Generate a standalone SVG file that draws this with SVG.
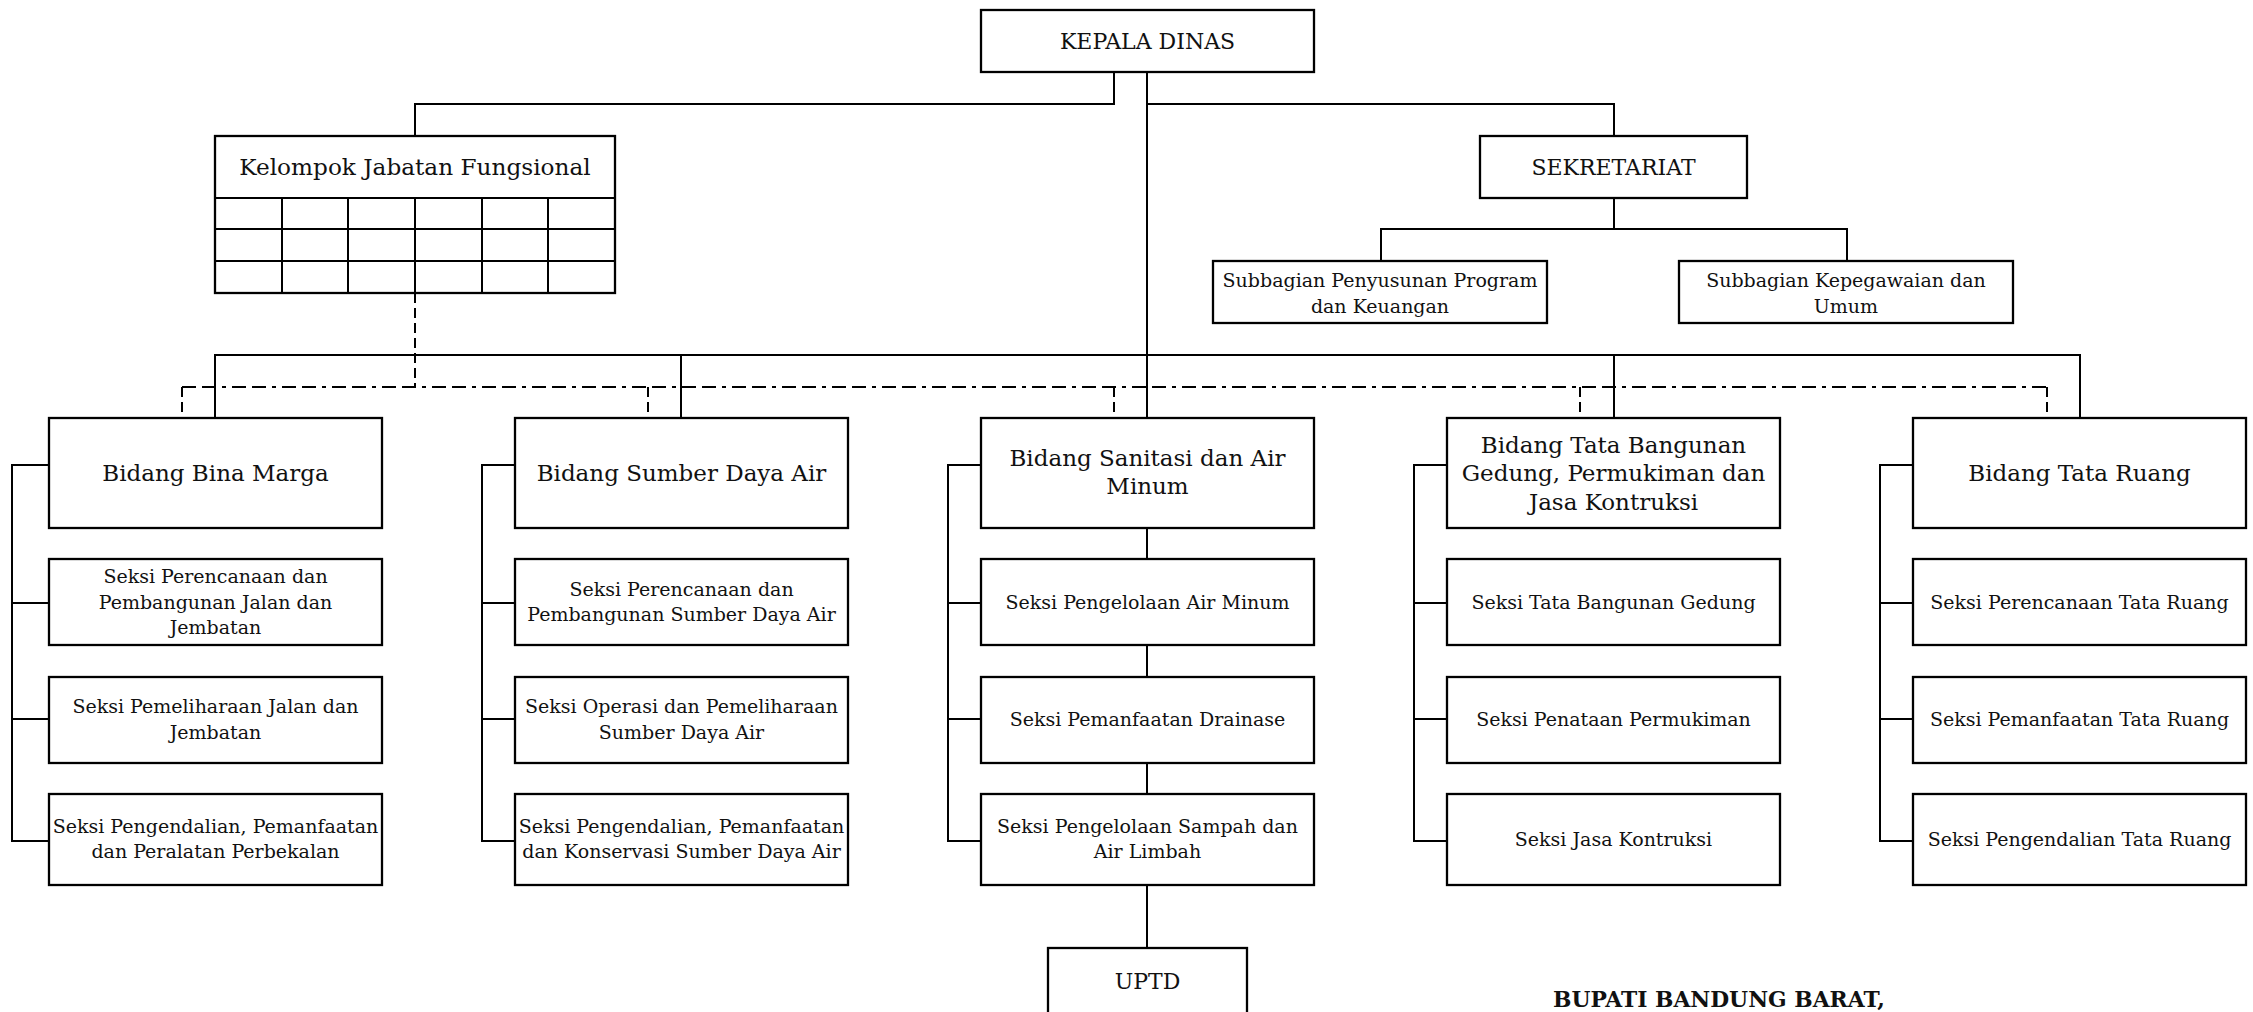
<svg xmlns="http://www.w3.org/2000/svg" width="2253" height="1012" viewBox="0 0 2253 1012">
<style>
.box{fill:#fff;stroke:#000;stroke-width:2.3}
.ln{fill:none;stroke:#000;stroke-width:2}
.dd{fill:none;stroke:#000;stroke-width:2;stroke-dasharray:14 6 14 6 4 6}
.ds{fill:none;stroke:#000;stroke-width:2;stroke-dasharray:10 5}
text{font-family:"DejaVu Serif","Liberation Serif",serif;fill:#111;text-anchor:middle}
.t{font-size:22px}
.k{font-size:23.2px}
.b{font-size:23px}
.s{font-size:19px}
.sg{font-weight:bold;font-size:21.8px;text-anchor:start}
</style>
<rect width="2253" height="1012" fill="#fff"/>
<g id="connectors">
<path class="ln" d="M1114 72V104H415V136"/>
<path class="ln" d="M1147 72V418"/>
<path class="ln" d="M1147 104H1614V136"/>
<path class="ln" d="M1614 198V229M1381 261V229H1847V261"/>
<path class="ln" d="M215 418V355H2080V418M681 355V418M1614 355V418"/>
<path class="ds" d="M415 293V387"/>
<path class="dd" d="M182 387H2047"/>
<path class="ds" d="M182 387V418M648 387V418M1114 387V418M1580 387V418M2047 387V418"/>
<path class="ln" d="M49 465H12V841H49M12 603H49M12 719H49"/>
<path class="ln" d="M515 465H482V841H515M482 603H515M482 719H515"/>
<path class="ln" d="M981 465H948V841H981M948 603H981M948 719H981"/>
<path class="ln" d="M1447 465H1414V841H1447M1414 603H1447M1414 719H1447"/>
<path class="ln" d="M1913 465H1880V841H1913M1880 603H1913M1880 719H1913"/>
<path class="ln" d="M1147 528V559M1147 645V677M1147 763V794M1147 885V948"/>
</g>
<g id="kepala-dinas">
<rect class="box" x="981" y="10" width="333" height="62"/>
<text class="t" x="1147.5" y="49">KEPALA DINAS</text>
</g>
<g id="kelompok-jabatan-fungsional">
<rect class="box" x="215" y="136" width="400" height="157"/>
<path class="ln" d="M215 198H615M215 229H615M215 261H615M282 198V293M348 198V293M415 198V293M482 198V293M548 198V293"/>
<text class="k" x="415" y="175">Kelompok Jabatan Fungsional</text>
</g>
<g id="sekretariat">
<rect class="box" x="1480" y="136" width="267" height="62"/>
<text class="t" x="1613.5" y="175">SEKRETARIAT</text>
</g>
<g id="subbagian-program">
<rect class="box" x="1213" y="261" width="334" height="62"/>
<text class="s" x="1380" y="287">Subbagian Penyusunan Program<tspan x="1380" y="313">dan Keuangan</tspan></text>
</g>
<g id="subbagian-umum">
<rect class="box" x="1679" y="261" width="334" height="62"/>
<text class="s" x="1846" y="287">Subbagian Kepegawaian dan<tspan x="1846" y="313">Umum</tspan></text>
</g>
<g id="bidang-bina-marga">
<rect class="box" x="49" y="418" width="333" height="110"/>
<text class="b" x="215.5" y="481">Bidang Bina Marga</text>
</g>
<g id="seksi-bm-1">
<rect class="box" x="49" y="559" width="333" height="86"/>
<text class="s" x="215.5" y="583">Seksi Perencanaan dan<tspan x="215.5" y="608.5">Pembangunan Jalan dan</tspan><tspan x="215.5" y="634">Jembatan</tspan></text>
</g>
<g id="seksi-bm-2">
<rect class="box" x="49" y="677" width="333" height="86"/>
<text class="s" x="215.5" y="713">Seksi Pemeliharaan Jalan dan<tspan x="215.5" y="739">Jembatan</tspan></text>
</g>
<g id="seksi-bm-3">
<rect class="box" x="49" y="794" width="333" height="91"/>
<text class="s" x="215.5" y="833">Seksi Pengendalian, Pemanfaatan<tspan x="215.5" y="858">dan Peralatan Perbekalan</tspan></text>
</g>
<g id="bidang-sda">
<rect class="box" x="515" y="418" width="333" height="110"/>
<text class="b" x="681.5" y="481">Bidang Sumber Daya Air</text>
</g>
<g id="seksi-sda-1">
<rect class="box" x="515" y="559" width="333" height="86"/>
<text class="s" x="681.5" y="596">Seksi Perencanaan dan<tspan x="681.5" y="621">Pembangunan Sumber Daya Air</tspan></text>
</g>
<g id="seksi-sda-2">
<rect class="box" x="515" y="677" width="333" height="86"/>
<text class="s" x="681.5" y="713">Seksi Operasi dan Pemeliharaan<tspan x="681.5" y="739">Sumber Daya Air</tspan></text>
</g>
<g id="seksi-sda-3">
<rect class="box" x="515" y="794" width="333" height="91"/>
<text class="s" x="681.5" y="833">Seksi Pengendalian, Pemanfaatan<tspan x="681.5" y="858">dan Konservasi Sumber Daya Air</tspan></text>
</g>
<g id="bidang-sanitasi">
<rect class="box" x="981" y="418" width="333" height="110"/>
<text class="b" x="1147.5" y="466">Bidang Sanitasi dan Air<tspan x="1147.5" y="494">Minum</tspan></text>
</g>
<g id="seksi-san-1">
<rect class="box" x="981" y="559" width="333" height="86"/>
<text class="s" x="1147.5" y="608.5">Seksi Pengelolaan Air Minum</text>
</g>
<g id="seksi-san-2">
<rect class="box" x="981" y="677" width="333" height="86"/>
<text class="s" x="1147.5" y="726">Seksi Pemanfaatan Drainase</text>
</g>
<g id="seksi-san-3">
<rect class="box" x="981" y="794" width="333" height="91"/>
<text class="s" x="1147.5" y="833">Seksi Pengelolaan Sampah dan<tspan x="1147.5" y="858">Air Limbah</tspan></text>
</g>
<g id="uptd">
<rect class="box" x="1048" y="948" width="199" height="80"/>
<text class="t" x="1147.5" y="989">UPTD</text>
</g>
<g id="bidang-tata-bangunan">
<rect class="box" x="1447" y="418" width="333" height="110"/>
<text class="b" x="1613.5" y="452.5">Bidang Tata Bangunan<tspan x="1613.5" y="481">Gedung, Permukiman dan</tspan><tspan x="1613.5" y="510">Jasa Kontruksi</tspan></text>
</g>
<g id="seksi-tb-1">
<rect class="box" x="1447" y="559" width="333" height="86"/>
<text class="s" x="1613.5" y="608.5">Seksi Tata Bangunan Gedung</text>
</g>
<g id="seksi-tb-2">
<rect class="box" x="1447" y="677" width="333" height="86"/>
<text class="s" x="1613.5" y="726">Seksi Penataan Permukiman</text>
</g>
<g id="seksi-tb-3">
<rect class="box" x="1447" y="794" width="333" height="91"/>
<text class="s" x="1613.5" y="846">Seksi Jasa Kontruksi</text>
</g>
<g id="bidang-tata-ruang">
<rect class="box" x="1913" y="418" width="333" height="110"/>
<text class="b" x="2079.5" y="481">Bidang Tata Ruang</text>
</g>
<g id="seksi-tr-1">
<rect class="box" x="1913" y="559" width="333" height="86"/>
<text class="s" x="2079.5" y="608.5">Seksi Perencanaan Tata Ruang</text>
</g>
<g id="seksi-tr-2">
<rect class="box" x="1913" y="677" width="333" height="86"/>
<text class="s" x="2079.5" y="726">Seksi Pemanfaatan Tata Ruang</text>
</g>
<g id="seksi-tr-3">
<rect class="box" x="1913" y="794" width="333" height="91"/>
<text class="s" x="2079.5" y="846">Seksi Pengendalian Tata Ruang</text>
</g>
<g id="signature">
<text class="sg" x="1553" y="1007">BUPATI BANDUNG BARAT,</text>
</g>
</svg>
